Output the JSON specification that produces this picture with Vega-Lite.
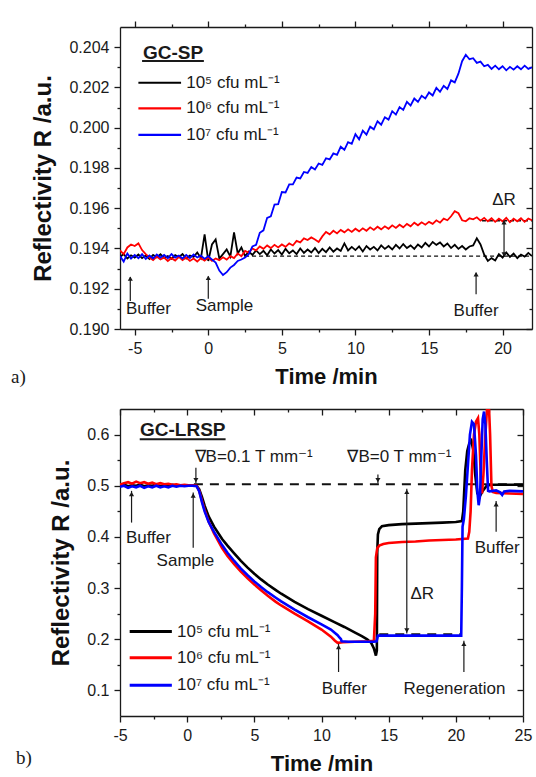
{
"$schema": "https://vega.github.io/schema/vega-lite/v6.json",
"padding": {"left": 10, "top": 20, "right": 5, "bottom": 3},
"background": "#ffffff",
"config": {
 "view": {"stroke": null},
 "font": "Liberation Sans",
 "axis": {"grid": false, "domainColor": "#1a1a1a", "domainWidth": 1.3, "tickColor": "#1a1a1a", "tickWidth": 1.3, "labelColor": "#1a1a1a", "labelFont": "Liberation Sans", "labelFontSize": 16, "titleColor": "#111111", "titleFont": "Liberation Sans", "titleFontWeight": "bold", "labelFlush": false, "labelOverlap": false},
 "text": {"font": "Liberation Sans", "fontSize": 17, "color": "#1a1a1a", "baseline": "middle"}
},
"datasets": {
 "a": [
{"t":-6,"k":0.19358,"r":0.19390,"b":0.19362},{"t":-5.75,"k":0.19372,"r":0.19372,"b":0.19335},{"t":-5.5,"k":0.19350,"r":0.19405,"b":0.19375},{"t":-5.25,"k":0.19366,"r":0.19420,"b":0.19350},
{"t":-5,"k":0.19355,"r":0.19412,"b":0.19368},{"t":-4.75,"k":0.19370,"r":0.19425,"b":0.19352},{"t":-4.5,"k":0.19352,"r":0.19392,"b":0.19372},{"t":-4.25,"k":0.19365,"r":0.19372,"b":0.19348},
{"t":-4,"k":0.19348,"r":0.19355,"b":0.19365},{"t":-3.75,"k":0.19368,"r":0.19342,"b":0.19350},{"t":-3.5,"k":0.19356,"r":0.19360,"b":0.19370},{"t":-3.25,"k":0.19371,"r":0.19345,"b":0.19355},
{"t":-3,"k":0.19353,"r":0.19355,"b":0.19368},{"t":-2.75,"k":0.19362,"r":0.19338,"b":0.19352},{"t":-2.5,"k":0.19349,"r":0.19352,"b":0.19372},{"t":-2.25,"k":0.19367,"r":0.19340,"b":0.19355},
{"t":-2,"k":0.19357,"r":0.19358,"b":0.19365},{"t":-1.75,"k":0.19372,"r":0.19342,"b":0.19350},{"t":-1.5,"k":0.19350,"r":0.19355,"b":0.19368},{"t":-1.25,"k":0.19365,"r":0.19338,"b":0.19352},
{"t":-1,"k":0.19358,"r":0.19350,"b":0.19370},{"t":-0.75,"k":0.19380,"r":0.19335,"b":0.19355},{"t":-0.5,"k":0.19352,"r":0.19352,"b":0.19365},{"t":-0.25,"k":0.19470,"r":0.19340,"b":0.19348},
{"t":0,"k":0.19338,"r":0.19355,"b":0.19362},{"t":0.25,"k":0.19420,"r":0.19338,"b":0.19345},{"t":0.5,"k":0.19445,"r":0.19350,"b":0.19330},{"t":0.75,"k":0.19350,"r":0.19342,"b":0.19290},
{"t":1,"k":0.19372,"r":0.19356,"b":0.19268},{"t":1.25,"k":0.19395,"r":0.19345,"b":0.19282},{"t":1.5,"k":0.19360,"r":0.19362,"b":0.19305},{"t":1.75,"k":0.19480,"r":0.19352,"b":0.19318},
{"t":2,"k":0.19375,"r":0.19375,"b":0.19338},{"t":2.25,"k":0.19405,"r":0.19362,"b":0.19345},{"t":2.5,"k":0.19362,"r":0.19388,"b":0.19355},{"t":2.75,"k":0.19385,"r":0.19378,"b":0.19372},
{"t":3,"k":0.19368,"r":0.19400,"b":0.19410},{"t":3.25,"k":0.19390,"r":0.19390,"b":0.19418},{"t":3.5,"k":0.19372,"r":0.19410,"b":0.19478},{"t":3.75,"k":0.19388,"r":0.19398,"b":0.19490},
{"t":4,"k":0.19366,"r":0.19415,"b":0.19552},{"t":4.25,"k":0.19395,"r":0.19402,"b":0.19560},{"t":4.5,"k":0.19375,"r":0.19418,"b":0.19618},{"t":4.75,"k":0.19392,"r":0.19405,"b":0.19620},
{"t":5,"k":0.19370,"r":0.19420,"b":0.19680},{"t":5.25,"k":0.19398,"r":0.19408,"b":0.19678},{"t":5.5,"k":0.19376,"r":0.19425,"b":0.19718},{"t":5.75,"k":0.19390,"r":0.19415,"b":0.19718},
{"t":6,"k":0.19372,"r":0.19438,"b":0.19752},{"t":6.25,"k":0.19400,"r":0.19430,"b":0.19748},{"t":6.5,"k":0.19378,"r":0.19450,"b":0.19780},{"t":6.75,"k":0.19395,"r":0.19442,"b":0.19775},
{"t":7,"k":0.19380,"r":0.19455,"b":0.19805},{"t":7.25,"k":0.19402,"r":0.19445,"b":0.19792},{"t":7.5,"k":0.19377,"r":0.19432,"b":0.19822},{"t":7.75,"k":0.19398,"r":0.19460,"b":0.19815},
{"t":8,"k":0.19382,"r":0.19482,"b":0.19848},{"t":8.25,"k":0.19405,"r":0.19470,"b":0.19842},{"t":8.5,"k":0.19384,"r":0.19488,"b":0.19872},{"t":8.75,"k":0.19400,"r":0.19475,"b":0.19865},
{"t":9,"k":0.19388,"r":0.19492,"b":0.19905},{"t":9.25,"k":0.19425,"r":0.19480,"b":0.19890},{"t":9.5,"k":0.19390,"r":0.19495,"b":0.19928},{"t":9.75,"k":0.19408,"r":0.19482,"b":0.19920},
{"t":10,"k":0.19392,"r":0.19498,"b":0.19968},{"t":10.25,"k":0.19410,"r":0.19485,"b":0.19942},{"t":10.5,"k":0.19385,"r":0.19500,"b":0.19985},{"t":10.75,"k":0.19412,"r":0.19488,"b":0.19965},
{"t":11,"k":0.19395,"r":0.19505,"b":0.20005},{"t":11.25,"k":0.19408,"r":0.19492,"b":0.19992},{"t":11.5,"k":0.19390,"r":0.19508,"b":0.20032},{"t":11.75,"k":0.19415,"r":0.19495,"b":0.20015},
{"t":12,"k":0.19398,"r":0.19510,"b":0.20052},{"t":12.25,"k":0.19412,"r":0.19498,"b":0.20040},{"t":12.5,"k":0.19395,"r":0.19515,"b":0.20082},{"t":12.75,"k":0.19418,"r":0.19502,"b":0.20065},
{"t":13,"k":0.19400,"r":0.19518,"b":0.20102},{"t":13.25,"k":0.19422,"r":0.19505,"b":0.20088},{"t":13.5,"k":0.19402,"r":0.19522,"b":0.20128},{"t":13.75,"k":0.19415,"r":0.19510,"b":0.20110},
{"t":14,"k":0.19398,"r":0.19528,"b":0.20145},{"t":14.25,"k":0.19420,"r":0.19515,"b":0.20128},{"t":14.5,"k":0.19405,"r":0.19530,"b":0.20158},{"t":14.75,"k":0.19428,"r":0.19518,"b":0.20145},
{"t":15,"k":0.19410,"r":0.19532,"b":0.20175},{"t":15.25,"k":0.19432,"r":0.19522,"b":0.20160},{"t":15.5,"k":0.19418,"r":0.19540,"b":0.20198},{"t":15.75,"k":0.19430,"r":0.19528,"b":0.20178},
{"t":16,"k":0.19410,"r":0.19548,"b":0.20208},{"t":16.25,"k":0.19425,"r":0.19540,"b":0.20192},{"t":16.5,"k":0.19402,"r":0.19560,"b":0.20235},{"t":16.75,"k":0.19418,"r":0.19585,"b":0.20225},
{"t":17,"k":0.19398,"r":0.19575,"b":0.20268},{"t":17.25,"k":0.19412,"r":0.19540,"b":0.20330},{"t":17.5,"k":0.19395,"r":0.19535,"b":0.20362},{"t":17.75,"k":0.19410,"r":0.19550,"b":0.20340},
{"t":18,"k":0.19415,"r":0.19545,"b":0.20345},{"t":18.25,"k":0.19450,"r":0.19555,"b":0.20322},{"t":18.5,"k":0.19420,"r":0.19538,"b":0.20328},{"t":18.75,"k":0.19370,"r":0.19552,"b":0.20305},
{"t":19,"k":0.19338,"r":0.19535,"b":0.20312},{"t":19.25,"k":0.19352,"r":0.19550,"b":0.20292},{"t":19.5,"k":0.19340,"r":0.19532,"b":0.20308},{"t":19.75,"k":0.19372,"r":0.19548,"b":0.20290},
{"t":20,"k":0.19355,"r":0.19535,"b":0.20305},{"t":20.25,"k":0.19380,"r":0.19552,"b":0.20285},{"t":20.5,"k":0.19358,"r":0.19530,"b":0.20302},{"t":20.75,"k":0.19375,"r":0.19548,"b":0.20288},
{"t":21,"k":0.19352,"r":0.19535,"b":0.20305},{"t":21.25,"k":0.19370,"r":0.19550,"b":0.20290},{"t":21.5,"k":0.19360,"r":0.19532,"b":0.20308},{"t":21.75,"k":0.19378,"r":0.19548,"b":0.20292},
{"t":22,"k":0.19362,"r":0.19540,"b":0.20300}
 ],
 "aDash": [{"t1":2.5,"t2":22,"r":0.19362},{"t1":18.6,"t2":22,"r":0.19538}],
 "aArr": [{"t":-5.3,"y1":0.19139,"y2":0.19258},{"t":0,"y1":0.1915,"y2":0.19262},{"t":18.2,"y1":0.19173,"y2":0.1928},{"t":20.1,"y1":0.19362,"y2":0.19538}],
 "aHead": [{"t":-5.3,"y":0.1925,"dir":"up"},{"t":0,"y":0.19254,"dir":"up"},{"t":18.2,"y":0.19272,"dir":"up"},{"t":20.1,"y":0.1953,"dir":"up"},{"t":20.1,"y":0.1937,"dir":"down"}],
 "aTxt": [{"t":1.1,"r":0.19114,"label":"Sample"},{"t":18.2,"r":0.19089,"label":"Buffer"},{"t":20.1,"r":0.1964,"label":"ΔR"}],
 "aTxtL": [{"t":-5.6,"r":0.19099,"label":"Buffer"}],
 "aTitle": [{"t":-2.4,"r":0.20373,"label":"GC-SP"}],
 "aUnder": [{"t1":-4.5,"t2":-0.3,"r":0.20331}],
 "aLeg": [{"s":"k","t1":-4.75,"t2":-1.85,"tx":-1.5,"r":0.20223,"label":"10⁵ cfu mL⁻¹"},{"s":"r","t1":-4.75,"t2":-1.85,"tx":-1.5,"r":0.20096,"label":"10⁶ cfu mL⁻¹"},{"s":"b","t1":-4.75,"t2":-1.85,"tx":-1.5,"r":0.19964,"label":"10⁷ cfu mL⁻¹"}],
 "aLab": [{"t":-13.408,"r":0.18762,"label":"a)"}],
 "bk": [
{"t":-5,"v":0.500},{"t":-4.7,"v":0.502},{"t":-4.4,"v":0.499},{"t":-4.1,"v":0.501},{"t":-3.8,"v":0.500},{"t":-3.5,"v":0.502},{"t":-3.2,"v":0.499},{"t":-2.9,"v":0.501},{"t":-2.6,"v":0.500},{"t":-2.3,"v":0.502},{"t":-2.0,"v":0.499},{"t":-1.7,"v":0.501},{"t":-1.4,"v":0.500},{"t":-1.1,"v":0.502},{"t":-0.8,"v":0.500},{"t":-0.5,"v":0.501},{"t":-0.2,"v":0.500},{"t":0.1,"v":0.501},{"t":0.4,"v":0.501},{"t":0.7,"v":0.500},
{"t":0.9,"v":0.493},{"t":1.1,"v":0.478},{"t":1.3,"v":0.461},{"t":1.6,"v":0.440},{"t":2.0,"v":0.420},{"t":2.6,"v":0.396},{"t":3.0,"v":0.383},{"t":3.5,"v":0.368},{"t":4.0,"v":0.353},{"t":4.5,"v":0.340},{"t":5.0,"v":0.328},{"t":5.5,"v":0.317},{"t":6.0,"v":0.307},{"t":6.6,"v":0.296},{"t":7.0,"v":0.289},{"t":8.0,"v":0.273},{"t":9.0,"v":0.259},{"t":10.0,"v":0.246},{"t":11.0,"v":0.233},{"t":11.7,"v":0.224},{"t":12.5,"v":0.213},{"t":13.0,"v":0.206},{"t":13.4,"v":0.200},{"t":13.7,"v":0.193},{"t":13.9,"v":0.182},{"t":14.05,"v":0.168},{"t":14.12,"v":0.178},
{"t":14.15,"v":0.37},{"t":14.2,"v":0.405},{"t":14.3,"v":0.415},{"t":14.5,"v":0.421},{"t":15,"v":0.423},{"t":16,"v":0.425},{"t":17,"v":0.426},{"t":18,"v":0.427},{"t":19,"v":0.428},{"t":20,"v":0.429},{"t":20.45,"v":0.431},
{"t":20.55,"v":0.45},{"t":20.7,"v":0.53},{"t":20.85,"v":0.568},{"t":21.0,"v":0.583},{"t":21.15,"v":0.588},{"t":21.3,"v":0.57},{"t":21.45,"v":0.52},{"t":21.6,"v":0.485},{"t":21.8,"v":0.48},{"t":22.0,"v":0.49},{"t":22.3,"v":0.5},{"t":22.6,"v":0.502},{"t":23,"v":0.502},{"t":24,"v":0.502},{"t":25,"v":0.502}
 ],
 "br": [
{"t":-5,"v":0.502},{"t":-4.7,"v":0.505},{"t":-4.4,"v":0.507},{"t":-4.1,"v":0.504},{"t":-3.8,"v":0.508},{"t":-3.5,"v":0.505},{"t":-3.2,"v":0.507},{"t":-2.9,"v":0.504},{"t":-2.6,"v":0.506},{"t":-2.3,"v":0.503},{"t":-2.0,"v":0.505},{"t":-1.7,"v":0.503},{"t":-1.4,"v":0.504},{"t":-1.1,"v":0.502},{"t":-0.8,"v":0.503},{"t":-0.5,"v":0.501},{"t":-0.2,"v":0.502},{"t":0.1,"v":0.501},{"t":0.4,"v":0.501},{"t":0.7,"v":0.500},
{"t":0.9,"v":0.490},{"t":1.1,"v":0.471},{"t":1.3,"v":0.453},{"t":1.6,"v":0.430},{"t":2.0,"v":0.407},{"t":2.6,"v":0.378},{"t":3.0,"v":0.363},{"t":3.5,"v":0.347},{"t":4.0,"v":0.332},{"t":4.5,"v":0.319},{"t":5.0,"v":0.307},{"t":5.5,"v":0.296},{"t":6.0,"v":0.285},{"t":6.6,"v":0.273},{"t":7.0,"v":0.266},{"t":8.0,"v":0.250},{"t":9.0,"v":0.235},{"t":10.0,"v":0.219},{"t":10.7,"v":0.205},{"t":11.0,"v":0.197},{"t":11.2,"v":0.193},{"t":11.6,"v":0.194},{"t":12.5,"v":0.195},{"t":13.5,"v":0.196},{"t":13.9,"v":0.197},
{"t":14.0,"v":0.25},{"t":14.05,"v":0.36},{"t":14.15,"v":0.378},{"t":14.3,"v":0.383},{"t":14.6,"v":0.386},{"t":15,"v":0.388},{"t":16,"v":0.390},{"t":17,"v":0.391},{"t":18,"v":0.393},{"t":19,"v":0.394},{"t":20,"v":0.395},{"t":20.9,"v":0.397},
{"t":21.0,"v":0.41},{"t":21.1,"v":0.45},{"t":21.2,"v":0.53},{"t":21.35,"v":0.60},{"t":21.5,"v":0.625},{"t":21.65,"v":0.632},{"t":21.75,"v":0.60},{"t":21.85,"v":0.52},{"t":21.95,"v":0.485},{"t":22.05,"v":0.52},{"t":22.2,"v":0.60},{"t":22.32,"v":0.65},{"t":22.45,"v":0.665},{"t":22.55,"v":0.60},{"t":22.65,"v":0.50},{"t":22.75,"v":0.488},{"t":23,"v":0.486},{"t":24,"v":0.485},{"t":25,"v":0.484}
 ],
 "bb": [
{"t":-5,"v":0.498},{"t":-4.7,"v":0.500},{"t":-4.4,"v":0.496},{"t":-4.1,"v":0.499},{"t":-3.8,"v":0.497},{"t":-3.5,"v":0.500},{"t":-3.2,"v":0.496},{"t":-2.9,"v":0.499},{"t":-2.6,"v":0.497},{"t":-2.3,"v":0.500},{"t":-2.0,"v":0.497},{"t":-1.7,"v":0.499},{"t":-1.4,"v":0.497},{"t":-1.1,"v":0.500},{"t":-0.8,"v":0.498},{"t":-0.5,"v":0.500},{"t":-0.2,"v":0.499},{"t":0.1,"v":0.500},{"t":0.4,"v":0.500},{"t":0.7,"v":0.499},
{"t":0.9,"v":0.489},{"t":1.1,"v":0.468},{"t":1.3,"v":0.450},{"t":1.6,"v":0.429},{"t":2.0,"v":0.410},{"t":2.6,"v":0.384},{"t":3.0,"v":0.369},{"t":3.5,"v":0.353},{"t":4.0,"v":0.338},{"t":4.5,"v":0.325},{"t":5.0,"v":0.313},{"t":5.5,"v":0.302},{"t":6.0,"v":0.292},{"t":6.6,"v":0.281},{"t":7.0,"v":0.274},{"t":8.0,"v":0.258},{"t":9.0,"v":0.243},{"t":10.0,"v":0.229},{"t":10.7,"v":0.219},{"t":11.2,"v":0.208},{"t":11.35,"v":0.203},{"t":11.45,"v":0.200},{"t":11.5,"v":0.196},{"t":12,"v":0.195},{"t":13,"v":0.195},{"t":13.9,"v":0.195},{"t":14.1,"v":0.196},
{"t":14.2,"v":0.207},{"t":15,"v":0.207},{"t":16,"v":0.207},{"t":17,"v":0.207},{"t":18,"v":0.207},{"t":19,"v":0.207},{"t":20,"v":0.207},{"t":20.4,"v":0.207},
{"t":20.45,"v":0.30},{"t":20.5,"v":0.42},{"t":20.6,"v":0.435},{"t":20.75,"v":0.48},{"t":20.9,"v":0.54},{"t":21.05,"v":0.60},{"t":21.2,"v":0.625},{"t":21.35,"v":0.62},{"t":21.5,"v":0.56},{"t":21.6,"v":0.49},{"t":21.7,"v":0.462},{"t":21.8,"v":0.48},{"t":21.9,"v":0.56},{"t":22.0,"v":0.63},{"t":22.1,"v":0.645},{"t":22.2,"v":0.62},{"t":22.3,"v":0.55},{"t":22.4,"v":0.49},{"t":22.5,"v":0.489},{"t":23.0,"v":0.491},{"t":23.3,"v":0.487},{"t":23.45,"v":0.482},{"t":23.6,"v":0.489},{"t":24,"v":0.490},{"t":25,"v":0.489}
 ],
 "bDash": [{"t1":0.5,"t2":25,"r":0.503},{"t1":14.3,"t2":20.4,"r":0.21}],
 "bArr": [{"t":0.65,"y1":0.535,"y2":0.505},{"t":14.2,"y1":0.522,"y2":0.505},{"t":-4.14,"y1":0.428,"y2":0.49},{"t":0.45,"y1":0.379,"y2":0.487},{"t":11.27,"y1":0.136,"y2":0.191},{"t":20.6,"y1":0.136,"y2":0.197},{"t":23.0,"y1":0.41,"y2":0.47},{"t":16.35,"y1":0.211,"y2":0.494}],
 "bHead": [{"t":0.65,"y":0.511,"dir":"down"},{"t":14.2,"y":0.511,"dir":"down"},{"t":-4.14,"y":0.484,"dir":"up"},{"t":0.45,"y":0.481,"dir":"up"},{"t":11.27,"y":0.185,"dir":"up"},{"t":20.6,"y":0.191,"dir":"up"},{"t":23.0,"y":0.464,"dir":"up"},{"t":16.35,"y":0.488,"dir":"up"},{"t":16.35,"y":0.217,"dir":"down"}],
 "bTxt": [{"t":4.95,"r":0.557,"label":"∇B=0.1 T mm⁻¹"},{"t":15.8,"r":0.557,"label":"∇B=0 T mm⁻¹"},{"t":-0.13,"r":0.353,"label":"Sample"},{"t":11.7,"r":0.1023,"label":"Buffer"},{"t":19.9,"r":0.1023,"label":"Regeneration"},{"t":23.08,"r":0.379,"label":"Buffer"},{"t":17.5,"r":0.288,"label":"ΔR"}],
 "bTxtL": [{"t":-4.56,"r":0.3985,"label":"Buffer"}],
 "bTitle": [{"t":-0.33,"r":0.609,"label":"GC-LRSP"}],
 "bUnder": [{"t1":-3.53,"t2":2.86,"r":0.5908}],
 "bLeg": [{"s":"k","t1":-4.28,"t2":-1.14,"tx":-0.75,"r":0.215,"label":"10⁵ cfu mL⁻¹"},{"s":"r","t1":-4.28,"t2":-1.14,"tx":-0.75,"r":0.164,"label":"10⁶ cfu mL⁻¹"},{"s":"b","t1":-4.28,"t2":-1.14,"tx":-0.75,"r":0.11,"label":"10⁷ cfu mL⁻¹"}],
 "bLab": [{"t":-12.742,"r":-0.032,"label":"b)"}]
},
"columns": 1,
"spacing": 21,
"concat": [
 {
  "width": 412, "height": 302,
  "resolve": {"axis": {"x": "independent", "y": "independent"}},
  "layer": [
   {"data": {"name": "aDash"}, "mark": {"type": "rule", "strokeDash": [4, 3], "strokeWidth": 1.4, "color": "#111111"},
    "encoding": {
     "x": {"field": "t1", "type": "quantitative", "scale": {"domain": [-6, 22], "nice": false}, "axis": {"orient": "top", "values": [-2.5, 2.5, 7.5, 12.5, 17.5], "labels": false, "domain": false, "tickSize": 3, "title": null}},
     "x2": {"field": "t2"},
     "y": {"field": "r", "type": "quantitative", "scale": {"domain": [0.19, 0.205], "nice": false, "zero": false}, "axis": {"orient": "right", "values": [0.191, 0.193, 0.195, 0.197, 0.199, 0.201, 0.203], "labels": false, "domain": false, "tickSize": -3, "title": null}}}},
   {"data": {"name": "a"}, "mark": {"type": "line", "color": "#000000", "strokeWidth": 1.8, "clip": true},
    "encoding": {
     "x": {"field": "t", "type": "quantitative", "scale": {"domain": [-6, 22], "nice": false}, "axis": {"orient": "bottom", "values": [-5, 0, 5, 10, 15, 20], "labelExpr": "'' + datum.value", "title": "Time /min", "titleFontSize": 22, "tickSize": 6, "labelPadding": 5, "titlePadding": 10}},
     "y": {"field": "k", "type": "quantitative", "scale": {"domain": [0.19, 0.205], "nice": false, "zero": false}, "axis": {"orient": "left", "values": [0.19, 0.192, 0.194, 0.196, 0.198, 0.2, 0.202, 0.204], "format": ".3f", "title": "Reflectivity R /a.u.", "titleFontSize": 24, "tickSize": 6, "labelPadding": 5, "titlePadding": 13}}}},
   {"data": {"name": "a"}, "mark": {"type": "line", "color": "#ff0000", "strokeWidth": 1.8, "clip": true},
    "encoding": {
     "x": {"field": "t", "type": "quantitative", "scale": {"domain": [-6, 22], "nice": false}, "axis": {"orient": "top", "values": [-5, 0, 5, 10, 15, 20], "labels": false, "tickSize": 6, "title": null}},
     "y": {"field": "r", "type": "quantitative", "scale": {"domain": [0.19, 0.205], "nice": false, "zero": false}, "axis": {"orient": "right", "values": [0.19, 0.192, 0.194, 0.196, 0.198, 0.2, 0.202, 0.204], "labels": false, "tickSize": -6, "title": null}}}},
   {"data": {"name": "a"}, "mark": {"type": "line", "color": "#0000ff", "strokeWidth": 1.8, "clip": true},
    "encoding": {
     "x": {"field": "t", "type": "quantitative", "scale": {"domain": [-6, 22], "nice": false}, "axis": {"orient": "bottom", "values": [-2.5, 2.5, 7.5, 12.5, 17.5], "labels": false, "domain": false, "tickSize": 3, "title": null}},
     "y": {"field": "b", "type": "quantitative", "scale": {"domain": [0.19, 0.205], "nice": false, "zero": false}, "axis": {"orient": "left", "values": [0.191, 0.193, 0.195, 0.197, 0.199, 0.201, 0.203], "labels": false, "domain": false, "tickSize": 3, "title": null}}}},
   {"data": {"name": "aArr"}, "mark": {"type": "rule", "strokeWidth": 1.2, "color": "#1a1a1a"},
    "encoding": {
     "x": {"field": "t", "type": "quantitative", "scale": {"domain": [-6, 22], "nice": false}, "axis": null},
     "y": {"field": "y1", "type": "quantitative", "scale": {"domain": [0.19, 0.205], "nice": false, "zero": false}, "axis": null},
     "y2": {"field": "y2"}}},
   {"data": {"name": "aHead"}, "mark": {"type": "point", "filled": true, "size": 26, "opacity": 1, "color": "#1a1a1a"},
    "encoding": {
     "x": {"field": "t", "type": "quantitative", "scale": {"domain": [-6, 22], "nice": false}, "axis": null},
     "y": {"field": "y", "type": "quantitative", "scale": {"domain": [0.19, 0.205], "nice": false, "zero": false}, "axis": null},
     "shape": {"field": "dir", "type": "nominal", "scale": {"domain": ["up", "down"], "range": ["triangle-up", "triangle-down"]}, "legend": null}}},
   {"data": {"name": "aTxt"}, "mark": {"type": "text", "align": "center"},
    "encoding": {
     "x": {"field": "t", "type": "quantitative", "scale": {"domain": [-6, 22], "nice": false}, "axis": null},
     "y": {"field": "r", "type": "quantitative", "scale": {"domain": [0.19, 0.205], "nice": false, "zero": false}, "axis": null},
     "text": {"field": "label"}}},
   {"data": {"name": "aTxtL"}, "mark": {"type": "text", "align": "left"},
    "encoding": {
     "x": {"field": "t", "type": "quantitative", "scale": {"domain": [-6, 22], "nice": false}, "axis": null},
     "y": {"field": "r", "type": "quantitative", "scale": {"domain": [0.19, 0.205], "nice": false, "zero": false}, "axis": null},
     "text": {"field": "label"}}},
   {"data": {"name": "aTitle"}, "mark": {"type": "text", "align": "center", "fontWeight": "bold", "fontSize": 19},
    "encoding": {
     "x": {"field": "t", "type": "quantitative", "scale": {"domain": [-6, 22], "nice": false}, "axis": null},
     "y": {"field": "r", "type": "quantitative", "scale": {"domain": [0.19, 0.205], "nice": false, "zero": false}, "axis": null},
     "text": {"field": "label"}}},
   {"data": {"name": "aUnder"}, "mark": {"type": "rule", "strokeWidth": 2, "color": "#1a1a1a"},
    "encoding": {
     "x": {"field": "t1", "type": "quantitative", "scale": {"domain": [-6, 22], "nice": false}, "axis": null},
     "x2": {"field": "t2"},
     "y": {"field": "r", "type": "quantitative", "scale": {"domain": [0.19, 0.205], "nice": false, "zero": false}, "axis": null}}},
   {"data": {"name": "aLeg"}, "mark": {"type": "rule", "strokeWidth": 2.2},
    "encoding": {
     "x": {"field": "t1", "type": "quantitative", "scale": {"domain": [-6, 22], "nice": false}, "axis": null},
     "x2": {"field": "t2"},
     "y": {"field": "r", "type": "quantitative", "scale": {"domain": [0.19, 0.205], "nice": false, "zero": false}, "axis": null},
     "color": {"field": "s", "type": "nominal", "scale": {"domain": ["k", "r", "b"], "range": ["#000000", "#ff0000", "#0000ff"]}, "legend": null}}},
   {"data": {"name": "aLeg"}, "mark": {"type": "text", "align": "left"},
    "encoding": {
     "x": {"field": "tx", "type": "quantitative", "scale": {"domain": [-6, 22], "nice": false}, "axis": null},
     "y": {"field": "r", "type": "quantitative", "scale": {"domain": [0.19, 0.205], "nice": false, "zero": false}, "axis": null},
     "text": {"field": "label"}}},
   {"data": {"name": "aLab"}, "mark": {"type": "text", "align": "left", "font": "Liberation Serif", "fontSize": 19},
    "encoding": {
     "x": {"field": "t", "type": "quantitative", "scale": {"domain": [-6, 22], "nice": false}, "axis": null},
     "y": {"field": "r", "type": "quantitative", "scale": {"domain": [0.19, 0.205], "nice": false, "zero": false}, "axis": null},
     "text": {"field": "label"}}}
  ]
 },
 {
  "width": 403, "height": 307,
  "resolve": {"axis": {"x": "independent", "y": "independent"}},
  "layer": [
   {"data": {"name": "bDash"}, "mark": {"type": "rule", "strokeDash": [9, 7], "strokeWidth": 2, "color": "#111111"},
    "encoding": {
     "x": {"field": "t1", "type": "quantitative", "scale": {"domain": [-5, 25], "nice": false}, "axis": {"orient": "top", "values": [-2.5, 2.5, 7.5, 12.5, 17.5, 22.5], "labels": false, "domain": false, "tickSize": -3, "title": null}},
     "x2": {"field": "t2"},
     "y": {"field": "r", "type": "quantitative", "scale": {"domain": [0.05, 0.65], "nice": false, "zero": false}, "axis": {"orient": "right", "values": [0.15, 0.25, 0.35, 0.45, 0.55], "labels": false, "domain": false, "tickSize": -3, "title": null}}}},
   {"data": {"name": "bk"}, "mark": {"type": "line", "color": "#000000", "strokeWidth": 2.6, "clip": true},
    "encoding": {
     "x": {"field": "t", "type": "quantitative", "scale": {"domain": [-5, 25], "nice": false}, "axis": {"orient": "bottom", "values": [-5, 0, 5, 10, 15, 20, 25], "labelExpr": "'' + datum.value", "title": "Time /min", "titleFontSize": 22, "tickSize": 6, "labelPadding": 5, "titlePadding": 10}},
     "y": {"field": "v", "type": "quantitative", "scale": {"domain": [0.05, 0.65], "nice": false, "zero": false}, "axis": {"orient": "left", "values": [0.1, 0.2, 0.3, 0.4, 0.5, 0.6], "format": ".1f", "title": "Reflectivity R /a.u.", "titleFontSize": 24, "tickSize": 6, "labelPadding": 5, "titlePadding": 13}}}},
   {"data": {"name": "br"}, "mark": {"type": "line", "color": "#ff0000", "strokeWidth": 2.6, "clip": true},
    "encoding": {
     "x": {"field": "t", "type": "quantitative", "scale": {"domain": [-5, 25], "nice": false}, "axis": {"orient": "top", "values": [-5, 0, 5, 10, 15, 20, 25], "labels": false, "tickSize": -6, "title": null}},
     "y": {"field": "v", "type": "quantitative", "scale": {"domain": [0.05, 0.65], "nice": false, "zero": false}, "axis": {"orient": "right", "values": [0.1, 0.2, 0.3, 0.4, 0.5, 0.6], "labels": false, "tickSize": -6, "title": null}}}},
   {"data": {"name": "bb"}, "mark": {"type": "line", "color": "#0000ff", "strokeWidth": 2.6, "clip": true},
    "encoding": {
     "x": {"field": "t", "type": "quantitative", "scale": {"domain": [-5, 25], "nice": false}, "axis": {"orient": "bottom", "values": [-2.5, 2.5, 7.5, 12.5, 17.5, 22.5], "labels": false, "domain": false, "tickSize": 3, "title": null}},
     "y": {"field": "v", "type": "quantitative", "scale": {"domain": [0.05, 0.65], "nice": false, "zero": false}, "axis": {"orient": "left", "values": [0.15, 0.25, 0.35, 0.45, 0.55], "labels": false, "domain": false, "tickSize": 3, "title": null}}}},
   {"data": {"name": "bArr"}, "mark": {"type": "rule", "strokeWidth": 1.2, "color": "#1a1a1a"},
    "encoding": {
     "x": {"field": "t", "type": "quantitative", "scale": {"domain": [-5, 25], "nice": false}, "axis": null},
     "y": {"field": "y1", "type": "quantitative", "scale": {"domain": [0.05, 0.65], "nice": false, "zero": false}, "axis": null},
     "y2": {"field": "y2"}}},
   {"data": {"name": "bHead"}, "mark": {"type": "point", "filled": true, "size": 26, "opacity": 1, "color": "#1a1a1a"},
    "encoding": {
     "x": {"field": "t", "type": "quantitative", "scale": {"domain": [-5, 25], "nice": false}, "axis": null},
     "y": {"field": "y", "type": "quantitative", "scale": {"domain": [0.05, 0.65], "nice": false, "zero": false}, "axis": null},
     "shape": {"field": "dir", "type": "nominal", "scale": {"domain": ["up", "down"], "range": ["triangle-up", "triangle-down"]}, "legend": null}}},
   {"data": {"name": "bTxt"}, "mark": {"type": "text", "align": "center"},
    "encoding": {
     "x": {"field": "t", "type": "quantitative", "scale": {"domain": [-5, 25], "nice": false}, "axis": null},
     "y": {"field": "r", "type": "quantitative", "scale": {"domain": [0.05, 0.65], "nice": false, "zero": false}, "axis": null},
     "text": {"field": "label"}}},
   {"data": {"name": "bTxtL"}, "mark": {"type": "text", "align": "left"},
    "encoding": {
     "x": {"field": "t", "type": "quantitative", "scale": {"domain": [-5, 25], "nice": false}, "axis": null},
     "y": {"field": "r", "type": "quantitative", "scale": {"domain": [0.05, 0.65], "nice": false, "zero": false}, "axis": null},
     "text": {"field": "label"}}},
   {"data": {"name": "bTitle"}, "mark": {"type": "text", "align": "center", "fontWeight": "bold", "fontSize": 19},
    "encoding": {
     "x": {"field": "t", "type": "quantitative", "scale": {"domain": [-5, 25], "nice": false}, "axis": null},
     "y": {"field": "r", "type": "quantitative", "scale": {"domain": [0.05, 0.65], "nice": false, "zero": false}, "axis": null},
     "text": {"field": "label"}}},
   {"data": {"name": "bUnder"}, "mark": {"type": "rule", "strokeWidth": 2, "color": "#1a1a1a"},
    "encoding": {
     "x": {"field": "t1", "type": "quantitative", "scale": {"domain": [-5, 25], "nice": false}, "axis": null},
     "x2": {"field": "t2"},
     "y": {"field": "r", "type": "quantitative", "scale": {"domain": [0.05, 0.65], "nice": false, "zero": false}, "axis": null}}},
   {"data": {"name": "bLeg"}, "mark": {"type": "rule", "strokeWidth": 3},
    "encoding": {
     "x": {"field": "t1", "type": "quantitative", "scale": {"domain": [-5, 25], "nice": false}, "axis": null},
     "x2": {"field": "t2"},
     "y": {"field": "r", "type": "quantitative", "scale": {"domain": [0.05, 0.65], "nice": false, "zero": false}, "axis": null},
     "color": {"field": "s", "type": "nominal", "scale": {"domain": ["k", "r", "b"], "range": ["#000000", "#ff0000", "#0000ff"]}, "legend": null}}},
   {"data": {"name": "bLeg"}, "mark": {"type": "text", "align": "left"},
    "encoding": {
     "x": {"field": "tx", "type": "quantitative", "scale": {"domain": [-5, 25], "nice": false}, "axis": null},
     "y": {"field": "r", "type": "quantitative", "scale": {"domain": [0.05, 0.65], "nice": false, "zero": false}, "axis": null},
     "text": {"field": "label"}}},
   {"data": {"name": "bLab"}, "mark": {"type": "text", "align": "left", "font": "Liberation Serif", "fontSize": 19},
    "encoding": {
     "x": {"field": "t", "type": "quantitative", "scale": {"domain": [-5, 25], "nice": false}, "axis": null},
     "y": {"field": "r", "type": "quantitative", "scale": {"domain": [0.05, 0.65], "nice": false, "zero": false}, "axis": null},
     "text": {"field": "label"}}}
  ]
 }
]
}
